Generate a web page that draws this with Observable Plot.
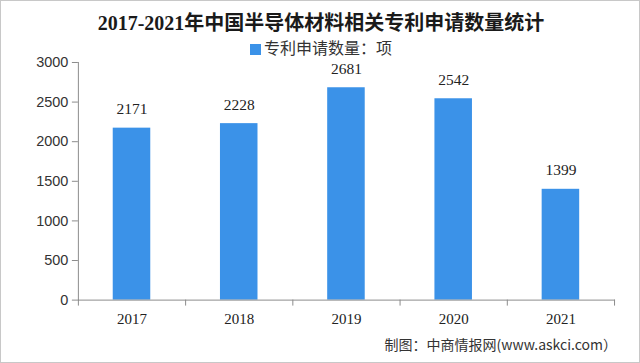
<!DOCTYPE html>
<html>
<head>
<meta charset="utf-8">
<script src="https://cdn.jsdelivr.net/npm/d3@7"></script>
<script src="https://cdn.jsdelivr.net/npm/@observablehq/plot@0.6"></script>
<style>
  html, body { margin: 0; padding: 0; background: #fff; }
  #wrap { position: relative; width: 640px; height: 363px; box-sizing: border-box; border: 1px solid #c8c8c8; overflow: hidden; }
  #title { position: absolute; left: 0; top: 9px; width: 640px; text-align: center; font: bold 20px "Liberation Serif", "Noto Sans CJK SC", serif; color: #1a1a1a; line-height: 26px; }
  #legend { position: absolute; left: 0; top: 36px; width: 640px; text-align: center; font: 16px "Noto Sans CJK SC", sans-serif; color: #333; line-height: 20px; }
  #legend .sw { display: inline-block; width: 11px; height: 11px; background: #3b92e8; margin-right: 3px; vertical-align: -1px; }
  #chart { position: absolute; left: -1px; top: 53px; }
  #source { position: absolute; right: 22px; top: 333px; font: 14px "Noto Sans CJK SC", sans-serif; color: #333; line-height: 20px; }
</style>
</head>
<body>
<div id="wrap">
  <div id="title">2017-2021年中国半导体材料相关专利申请数量统计</div>
  <div id="legend"><span class="sw"></span><span id="legendText"></span></div>
  <div id="chart"></div>
  <div id="source">制图：中商情报网(www.askci.com）</div>
</div>
<script>
const years = [2017, 2018, 2019, 2020, 2021];
const values = [2171, 2228, 2681, 2542, 1399];
const yTicks = [0, 500, 1000, 1500, 2000, 2500, 3000];
const seriesName = "专利申请数量：项";

document.getElementById("legendText").textContent = seriesName;

const data = years.map((year, i) => ({year, value: values[i]}));
const half = 0.5;
const barHalf = 0.175;
const boundaries = [years[0] - half, ...years.map(y => y + half)];

const chart = Plot.plot({
  width: 640,
  height: 278,
  marginTop: 8,
  marginBottom: 32,
  marginLeft: 78,
  marginRight: 25,
  x: {domain: [years[0] - half, years[years.length - 1] + half]},
  y: {domain: [0, 3000]},
  style: {background: "transparent"},
  marks: [
    Plot.rectY(data, {x1: d => d.year - barHalf, x2: d => d.year + barHalf, y: "value", fill: "#3b92e8"}),
    Plot.frame({anchor: "left", stroke: "#8c8c8c"}),
    Plot.frame({anchor: "bottom", stroke: "#8c8c8c"}),
    Plot.axisY({ticks: yTicks, tickSize: 6, tickPadding: 4, tickFormat: d => String(d), stroke: "#8c8c8c", fill: "#333", fontSize: 14.5, fontFamily: "Liberation Sans, Arial, sans-serif", label: null}),
    Plot.axisX({ticks: boundaries, tickSize: 6, tickFormat: () => "", stroke: "#8c8c8c", label: null}),
    Plot.axisX({ticks: years, tickSize: 0, tickPadding: 13, tickFormat: d => String(d), fill: "#222", fontSize: 15, fontFamily: "Liberation Serif, Times New Roman, serif", label: null}),
    Plot.text(data, {x: "year", y: "value", text: d => String(d.value), dy: -19, fill: "#222", fontSize: 15.5, fontFamily: "Liberation Serif, Times New Roman, serif"})
  ]
});
document.getElementById("chart").appendChild(chart);
</script>
</body>
</html>
